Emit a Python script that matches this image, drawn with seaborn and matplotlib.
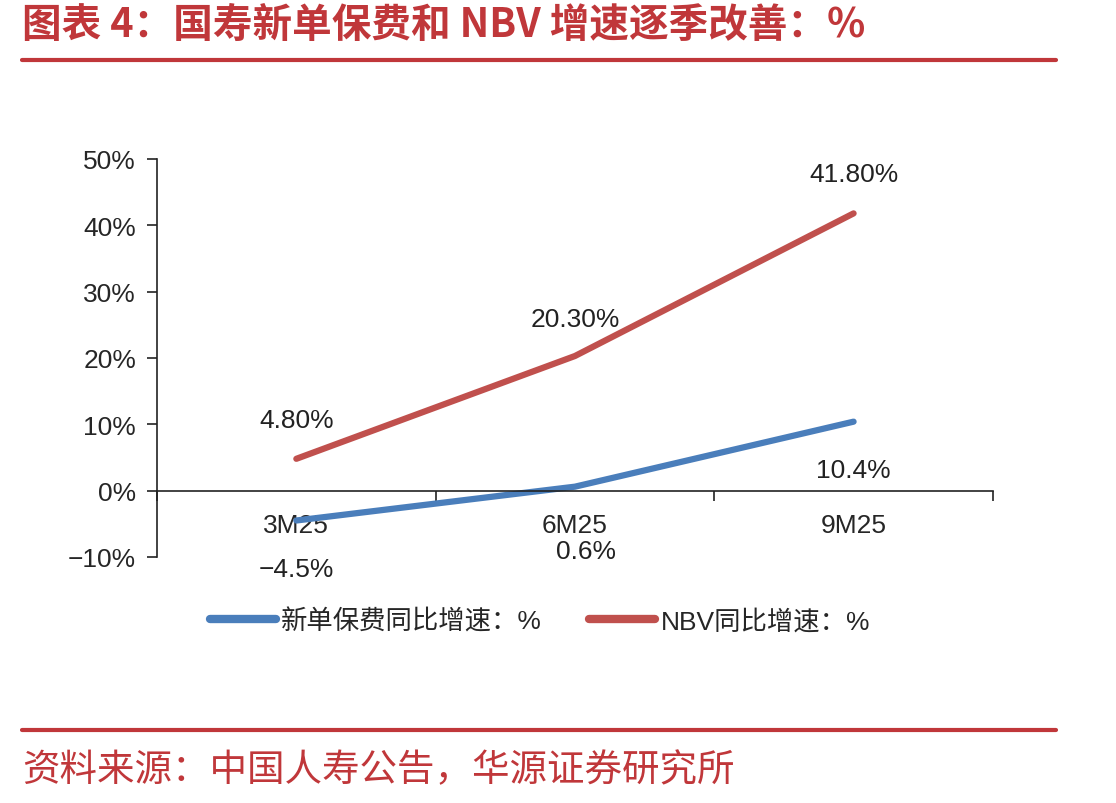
import pandas as pd
import matplotlib.pyplot as plt
import seaborn as sns
from matplotlib.ticker import FuncFormatter

quarters = ["3M25", "6M25", "9M25"]
premium_growth = [-4.5, 0.6, 10.4]
nbv_growth = [4.8, 20.3, 41.8]
premium_labels = ["−4.5%", "0.6%", "10.4%"]
nbv_labels = ["4.80%", "20.30%", "41.80%"]
series_names = ["新单保费同比增速：%", "NBV同比增速：%"]

title = "图表 4：国寿新单保费和 NBV 增速逐季改善：%"
source = "资料来源：中国人寿公告，华源证券研究所"

RED = "#c0373a"
BLUE = "#4a7ebb"
LINE_RED = "#c0504d"

sns.set_style("white")
plt.rcParams['font.family'] = ['Liberation Sans', 'Noto Sans CJK SC', 'DejaVu Sans']
plt.rcParams['axes.unicode_minus'] = True

df = pd.DataFrame({
    "pos": list(range(len(quarters))) * 2,
    "value": premium_growth + nbv_growth,
    "series": [series_names[0]] * len(quarters) + [series_names[1]] * len(quarters),
})

fig = plt.figure(figsize=(11.16, 8.04), dpi=100)
ax = fig.add_axes([0.1407, 0.306, 0.749, 0.495])

sns.lineplot(data=df, x="pos", y="value", hue="series", hue_order=series_names,
             palette=[BLUE, LINE_RED], linewidth=4.5, ax=ax, legend=True)
for line in ax.lines:
    line.set_solid_capstyle("round")

ax.set_xlim(-0.5, 2.5)
ax.set_ylim(-10, 50)
ax.set_yticks(range(-10, 51, 10))
ax.yaxis.set_major_formatter(FuncFormatter(lambda v, _: f"{v:.0f}%".replace("-", "−")))
ax.set_xticks(range(len(quarters)))
ax.set_xticklabels(quarters)
ax.set_xticks([-0.5, 0.5, 1.5, 2.5], minor=True)
ax.tick_params(axis="x", which="major", bottom=True, length=0, pad=16, labelsize=19)
ax.tick_params(axis="x", which="minor", bottom=True, length=7, width=1.2, direction="out",
               color="#222222")
ax.tick_params(axis="y", which="major", left=True, length=7, width=1.2, direction="out",
               labelsize=19, pad=8, color="#222222")
ax.set_xlabel("")
ax.set_ylabel("")

for side in ["top", "right"]:
    ax.spines[side].set_visible(False)
ax.spines["bottom"].set_position(("data", 0))
for side in ["bottom", "left"]:
    ax.spines[side].set_color("#222222")
    ax.spines[side].set_linewidth(1.2)

# data labels
nbv_offsets = [(0, 19), (0, 18), (0, 20)]
prem_offsets = [(0, -26), (8, -38), (0, -26)]
for i, (v, lab) in enumerate(zip(nbv_growth, nbv_labels)):
    ax.annotate(lab, (i, v), xytext=nbv_offsets[i], textcoords="offset points",
                ha="center", va="bottom", fontsize=19, color="#222222")
for i, (v, lab) in enumerate(zip(premium_growth, premium_labels)):
    ax.annotate(lab, (i, v), xytext=prem_offsets[i], textcoords="offset points",
                ha="center", va="top", fontsize=19, color="#222222")

leg = ax.legend(loc="center", bbox_to_anchor=(0.458, -0.161), ncol=2, frameon=False,
                fontsize=19, handlelength=2.5, handletextpad=0.2, columnspacing=1.8)
for h in leg.get_lines():
    h.set_linewidth(6)
    h.set_solid_capstyle("round")

# header and footer
fig.text(0.02, 0.968, title, fontsize=28.5, fontweight="bold", color=RED,
         ha="left", va="center", family=['Noto Sans CJK SC', 'DejaVu Sans'])
fig.add_artist(plt.Line2D([0.02, 0.946], [0.924, 0.924], color=RED, linewidth=3,
                          transform=fig.transFigure))
fig.add_artist(plt.Line2D([0.02, 0.946], [0.091, 0.091], color=RED, linewidth=3,
                          transform=fig.transFigure))
fig.text(0.02, 0.042, source, fontsize=27, color=RED, ha="left", va="center",
         family=['Noto Sans CJK SC', 'DejaVu Sans'])

fig.savefig("out.png", dpi=100)
